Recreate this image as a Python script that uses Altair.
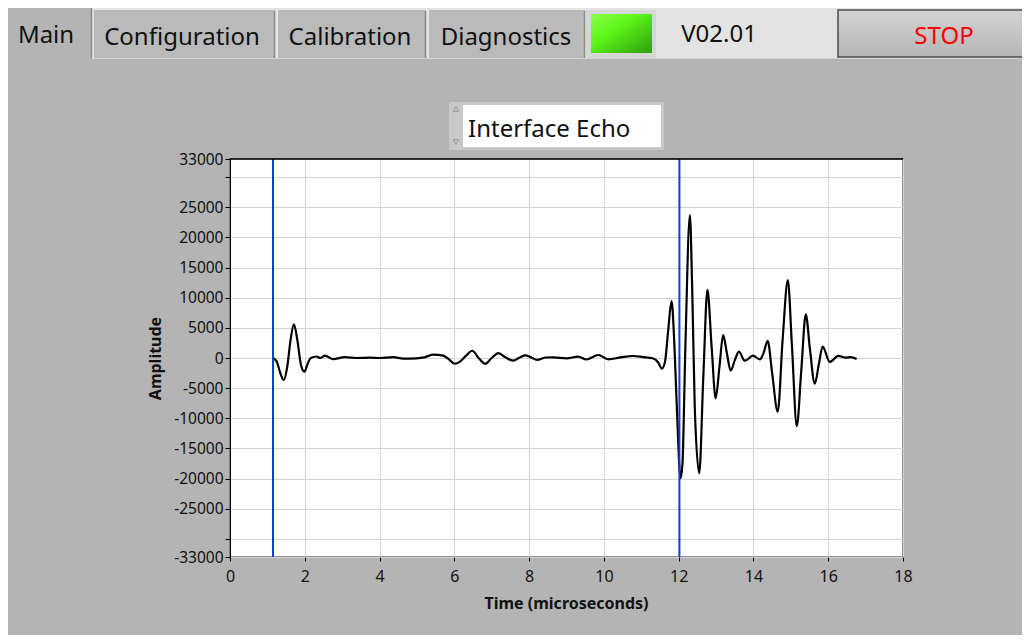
import altair as alt
import pandas as pd

# ---------------- data ----------------
time_us = [1.15, 1.25, 1.35, 1.44, 1.53, 1.62, 1.71, 1.80, 1.90, 1.99, 2.08, 2.16,
           2.32, 2.41, 2.54, 2.76, 3.07, 3.39, 3.74, 4.00, 4.37, 4.63, 4.99, 5.20,
           5.43, 5.70, 5.85, 6.01, 6.15, 6.30, 6.48, 6.65, 6.83, 7.00, 7.18, 7.37,
           7.57, 7.75, 7.90, 8.05, 8.21, 8.45, 8.64, 9.00, 9.31, 9.53, 9.85, 10.12,
           10.45, 10.78, 11.05, 11.30, 11.45, 11.55, 11.63, 11.72, 11.81, 11.88,
           11.95, 12.05, 12.10, 12.18, 12.30, 12.36, 12.43, 12.55, 12.66, 12.77,
           12.88, 12.99, 13.09, 13.19, 13.29, 13.39, 13.50, 13.61, 13.77, 13.99,
           14.17, 14.27, 14.38, 14.50, 14.65, 14.78, 14.92, 15.03, 15.16, 15.28,
           15.40, 15.51, 15.64, 15.75, 15.85, 16.04, 16.27, 16.46, 16.60, 16.76]
amplitude = [0, -600, -2600, -3650, -1500, 3000, 5600, 3000, -1200, -2270, -900, 0,
             250, 0, 400, -200, 150, 0, 50, 0, 150, -100, -50, 100,
             550, 400, -200, -950, -600, 300, 1200, 0, -950, 0, 800, 100,
             -450, 100, 450, 100, -300, 80, 100, -50, 220, -250, 500, -220,
             100, 330, 150, -50, -700, -1750, -800, 4600, 9450, 3000,
             -8000, -19950, -17700, 2000, 23700, 12000, -8000, -19100, -3000, 11300,
             2000, -6700, -1500, 3800, 800, -2100, -400, 1050, -450, 380,
             -220, 800, 2850, -2500, -8900, 3000, 12900, 2000, -11300, -2000,
             7250, 1500, -4250, -1000, 1900, -650, 350, 50, 150, -150]
cursor_times = [1.15, 12.02]
x_ticks = [0, 2, 4, 6, 8, 10, 12, 14, 16, 18]
y_ticks = [-33000, -30000, -25000, -20000, -15000, -10000, -5000, 0,
           5000, 10000, 15000, 20000, 25000, 30000, 33000]
tab_labels = ["Main", "Configuration", "Calibration", "Diagnostics"]
version_text = "V02.01"
stop_text = "STOP"
ring_text = "Interface Echo"
x_title = "Time (microseconds)"
y_title = "Amplitude"

# ---------------- layout helpers (UI chrome, in page pixels) ----------------
OX, OY = 230, 159          # page position of the plot's top-left corner
FONT = "Noto Sans"
one = pd.DataFrame({"k": [0]})


def box(x1, y1, x2, y2, fill, stroke=None, sw=1):
    kw = dict(fill=fill)
    if stroke:
        kw.update(stroke=stroke, strokeWidth=sw)
    return alt.Chart(one).mark_rect(**kw).encode(
        x=alt.value(x1 - OX), x2=alt.value(x2 - OX),
        y=alt.value(y1 - OY), y2=alt.value(y2 - OY))


def seg(x1, y1, x2, y2, color, sw=1):
    return alt.Chart(one).mark_rule(color=color, strokeWidth=sw).encode(
        x=alt.value(x1 - OX), x2=alt.value(x2 - OX),
        y=alt.value(y1 - OY), y2=alt.value(y2 - OY))


def label(x, y, txt, size=24, color="#111111", align="center", weight="normal"):
    return alt.Chart(one).mark_text(
        text=txt, font=FONT, fontSize=size, color=color, align=align,
        baseline="middle", fontWeight=weight).encode(
        x=alt.value(x - OX), y=alt.value(y - OY))


def grad(stops, x2=0, y2=1):
    return alt.Gradient(gradient="linear", x1=0, y1=0, x2=x2, y2=y2,
                        stops=[alt.GradientStop(color=c, offset=o) for c, o in stops])


ui = []
# top strip
ui.append(box(0, 0, 1040, 58, "#e3e3e3"))
ui.append(seg(92, 58.5, 1040, 58.5, "#d2d2d2"))
# tabs
tab_boxes = [(4, 6, 92, 62), (93, 9, 275, 58), (277, 9, 426, 58), (428, 9, 585, 58)]
tab_text_pos = [(46, 36), (182, 38), (350, 38), (506, 38)]
for i, (bx1, by1, bx2, by2) in enumerate(tab_boxes):
    ui.append(box(bx1, by1, bx2, by2, "#b4b4b4" if i == 0 else "#bababa"))
    ui.append(seg(bx1 + 0.5, by1, bx1 + 0.5, by2, "#e8e8e8"))
    ui.append(seg(bx1, by1 + 0.5, bx2, by1 + 0.5, "#e8e8e8"))
    ui.append(seg(bx2 - 0.5, by1 + 2, bx2 - 0.5, min(by2, 58), "#8a8a8a", 1.5))
    tx, ty = tab_text_pos[i]
    ui.append(label(tx, ty, tab_labels[i]))
# LED
ui.append(box(586, 10, 656, 58, "#d6d6d6"))
ui.append(box(591, 14, 652, 53, grad([("#8cff4a", 0), ("#5cf518", 0.4), ("#2f9e0c", 1)], x2=1, y2=1)))
ui.append(label(719, 35, version_text))
# STOP button
ui.append(box(838, 10, 1040, 57, grad([("#d4d4d4", 0), ("#c4c4c4", 0.5), ("#b6b6b6", 1)]), "#4d4d4d", 1.5))
ui.append(label(944, 37, stop_text, color="#ff0000"))
# ring control
ui.append(box(449, 102, 664, 150, "#c8c8c8"))
ui.append(box(463, 105, 661, 147, "#ffffff"))
ui.append(alt.Chart(one).mark_point(shape="triangle-up", size=30, color="#8a8a8a", filled=False,
                                    strokeWidth=1).encode(x=alt.value(456 - OX), y=alt.value(109 - OY)))
ui.append(alt.Chart(one).mark_point(shape="triangle-down", size=30, color="#8a8a8a", filled=False,
                                    strokeWidth=1).encode(x=alt.value(456 - OX), y=alt.value(142 - OY)))
ui.append(label(468, 130, ring_text, align="left"))

# ---------------- the graph ----------------
wave_df = pd.DataFrame({"t": time_us, "a": amplitude})
cursor_df = pd.DataFrame({"t": cursor_times})

x_enc = alt.X("t:Q", scale=alt.Scale(domain=[0, 18], nice=False, zero=False),
              axis=alt.Axis(values=x_ticks, grid=True, gridColor="#d3d3d3", domain=False,
                            tickColor="#000000", tickSize=4, labelFont=FONT, labelFontSize=16,
                            labelColor="#111111", labelPadding=7, labelFlush=False,
                            labelOverlap=False, title=x_title, titleFont=FONT, titleFontSize=16,
                            titleFontWeight="bold", titleColor="#111111", titleX=336, titleY=46,
                            titleBaseline="middle", titleAlign="center"))
y_enc = alt.Y("a:Q", scale=alt.Scale(domain=[-33000, 33000], nice=False, zero=False),
              axis=alt.Axis(values=y_ticks,
                            labelExpr="abs(datum.value) == 30000 ? '' : toString(datum.value)",
                            grid=True, gridColor="#d3d3d3", domainColor="#000000",
                            tickColor="#000000", tickSize=5, labelFont=FONT, labelFontSize=15.5,
                            labelColor="#111111", labelPadding=2, labelOverlap=False,
                            title=y_title, titleFont=FONT, titleFontSize=16,
                            titleFontWeight="bold", titleColor="#111111", titleX=-75, titleY=199,
                            titleAngle=270, titleBaseline="middle", titleAlign="center"))

wave = alt.Chart(wave_df).mark_line(color="#000000", strokeWidth=2.2,
                                    interpolate="monotone").encode(x=x_enc, y=y_enc)
cursors = alt.Chart(cursor_df).mark_rule(color="#0a3fd6", strokeWidth=2).encode(x="t:Q")
top_border = alt.Chart(one).mark_rule(color="#000000", strokeWidth=1.5).encode(
    x=alt.value(0), x2=alt.value("width"), y=alt.value(0))

chart = alt.layer(*ui, wave, cursors, top_border).properties(
    width=673, height=398,
    autosize=alt.AutoSizeParams(type="none"),
    padding={"left": 222, "top": 151, "right": 119, "bottom": 78},
    background="#b4b4b4",
).configure_view(stroke="#6e6e6e", strokeWidth=1.5, fill="#ffffff")

chart.save("out.html", embed_options={"renderer": "svg", "actions": False})
